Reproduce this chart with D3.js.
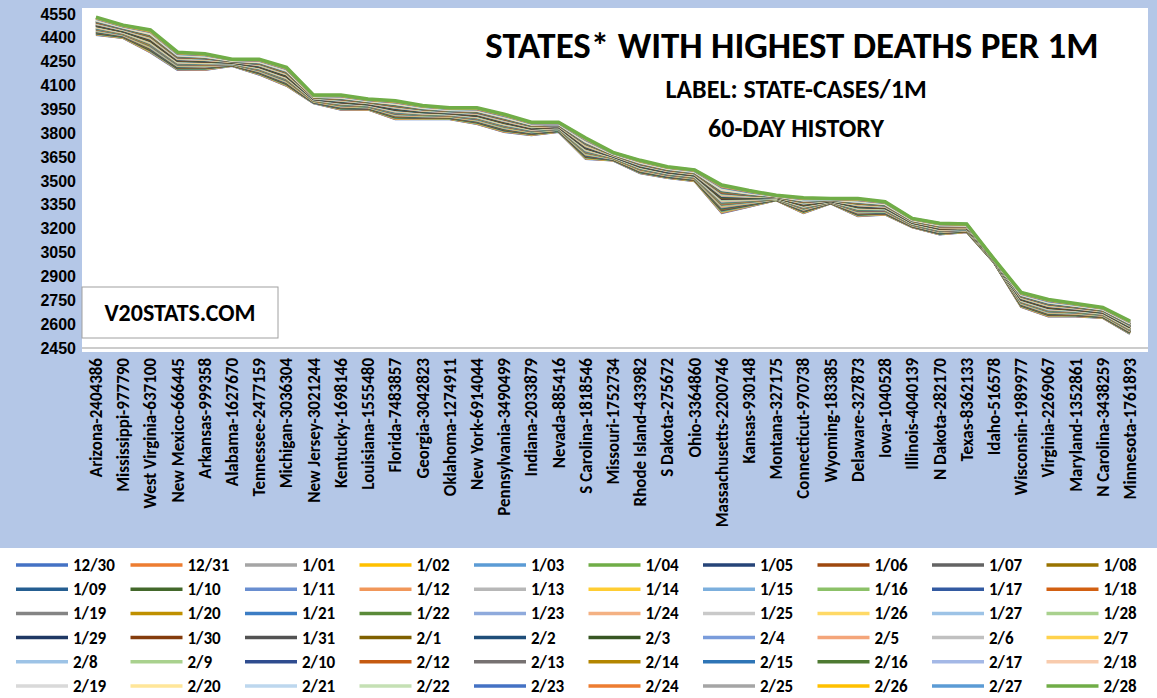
<!DOCTYPE html>
<html><head><meta charset="utf-8">
<script src="https://cdn.jsdelivr.net/npm/d3@7"></script>
<style>body{margin:0;background:#b4c7e7;font-family:Calibri,Carlito,"Liberation Sans",Arial,sans-serif}</style>
</head><body><div id="chart"></div>
<script>
// state: [value on 12/30, value on 2/28] (deaths per 1M)
const states = [
 ["Arizona-2404386",4420,4530],["Mississippi-977790",4400,4480],["West Virginia-637100",4310,4450],
 ["New Mexico-666445",4200,4310],["Arkansas-999358",4200,4300],["Alabama-1627670",4225,4265],
 ["Tennessee-2477159",4170,4265],["Michigan-3036304",4100,4215],["New Jersey-3021244",3990,4040],
 ["Kentucky-1698146",3950,4040],["Louisiana-1555480",3950,4015],["Florida-7483857",3890,4005],
 ["Georgia-3042823",3890,3975],["Oklahoma-1274911",3890,3960],["New York-6914044",3860,3960],
 ["Pennsylvania-3490499",3810,3920],["Indiana-2033879",3790,3870],["Nevada-885416",3810,3870],
 ["S Carolina-1818546",3640,3770],["Missouri-1752734",3630,3680],["Rhode Island-433982",3550,3630],
 ["S Dakota-275672",3520,3590],["Ohio-3364860",3500,3570],["Massachusetts-2200746",3300,3475],
 ["Kansas-930148",3340,3440],["Montana-327175",3380,3410],["Connecticut-970738",3300,3395],
 ["Wyoming-183385",3360,3390],["Delaware-327873",3280,3390],["Iowa-1040528",3290,3370],
 ["Illinois-4040139",3210,3265],["N Dakota-282170",3165,3235],["Texas-8362133",3180,3230],
 ["Idaho-516578",2990,3010],["Wisconsin-1989977",2710,2800],["Virginia-2269067",2650,2755],
 ["Maryland-1352861",2650,2730],["N Carolina-3438259",2640,2705],["Minnesota-1761893",2540,2620]
];
const dates = ["12/30","12/31"];
for(let d=1;d<=31;d++) dates.push("1/"+(d<10?"0"+d:d));
for(let d=1;d<=28;d++) if(d!==11) dates.push("2/"+d);
const colors = ["#4472c4","#ed7d31","#a5a5a5","#ffc000","#5b9bd5","#70ad47","#264478","#9e480e","#636363","#997300",
"#255e91","#43682b","#698ed0","#f1975a","#b7b7b7","#ffcd33","#7cafdd","#8cc168","#335aa1","#d26012",
"#848484","#bf9000","#3c7dc4","#5a8a39","#8faadc","#f4b183","#c9c9c9","#ffd966","#9dc3e6","#a9d18e",
"#1f3864","#843c0c","#525252","#7f6000","#1f4e79","#375623","#7a9cdb","#f4a57a","#c0c0c0","#ffd24d",
"#9dc3e6","#a9d18e","#2f4c8f","#c55a11","#767171","#b38600","#2e75b6","#4e7a32","#a4b8e6","#f8cbad",
"#d9d9d9","#ffe699","#bdd7ee","#c5e0b4","#4472c4","#ed7d31","#a5a5a5","#ffc000","#5b9bd5","#70ad47"];

const W=1157,H=698;
const svg=d3.select("#chart").append("svg").attr("width",W).attr("height",H);
svg.append("rect").attr("x",82).attr("y",8).attr("width",1066).attr("height",344).attr("fill","#fff");

const x=d3.scalePoint().domain(states.map(s=>s[0])).range([96,1130]);
const y=d3.scaleLinear().domain([2450,4550]).range([348,14]);

svg.append("g").attr("transform","translate(82,0)")
 .call(d3.axisLeft(y).tickValues(d3.range(2450,4551,150)).tickFormat(d3.format("d")).tickSize(0).tickPadding(6))
 .call(g=>g.select(".domain").remove())
 .selectAll("text").attr("font-size",16).attr("font-weight","bold").attr("fill","#000");
svg.append("line").attr("x1",82).attr("x2",1148).attr("y1",348).attr("y2",348).attr("stroke","#999");

svg.append("g").selectAll("text").data(states).join("text")
 .attr("transform",d=>`translate(${x(d[0])+6},358) rotate(-90)`)
 .attr("text-anchor","end").attr("font-size",17).attr("font-weight","bold").text(d=>d[0]);

const line=d3.line().x(d=>x(d.s)).y(d=>y(d.v));
dates.forEach((dt,i)=>{
  const pts=states.map(s=>({s:s[0],v:s[1]+(s[2]-s[1])*i/(dates.length-1)}));
  svg.append("path").datum(pts).attr("d",line).attr("fill","none")
    .attr("stroke",colors[i]).attr("stroke-width",i===dates.length-1?3.5:2.5);
});

svg.append("text").attr("x",792).attr("y",58).attr("text-anchor","middle").attr("font-size",37).attr("font-weight","bold").text("STATES* WITH HIGHEST DEATHS PER 1M");
svg.append("text").attr("x",796).attr("y",98).attr("text-anchor","middle").attr("font-size",26).attr("font-weight","bold").text("LABEL: STATE-CASES/1M");
svg.append("text").attr("x",796).attr("y",137).attr("text-anchor","middle").attr("font-size",26).attr("font-weight","bold").text("60-DAY HISTORY");

svg.append("rect").attr("x",82).attr("y",287).attr("width",196).attr("height",51).attr("fill","#fff").attr("stroke","#a0a0a0");
svg.append("text").attr("x",180).attr("y",321).attr("text-anchor","middle").attr("font-size",24).attr("font-weight","bold").text("V20STATS.COM");

svg.append("rect").attr("x",0).attr("y",548).attr("width",W).attr("height",150).attr("fill","#fff");
const lg=svg.append("g").selectAll("g").data(dates).join("g")
 .attr("transform",(d,i)=>`translate(${16+(i%10)*114.5},${565+Math.floor(i/10)*24.2})`);
lg.append("line").attr("x1",0).attr("x2",52).attr("stroke",(d,i)=>colors[i]).attr("stroke-width",3.5);
lg.append("text").attr("x",57).attr("y",6).attr("font-size",17).attr("font-weight","bold").text(d=>d);
</script></body></html>
